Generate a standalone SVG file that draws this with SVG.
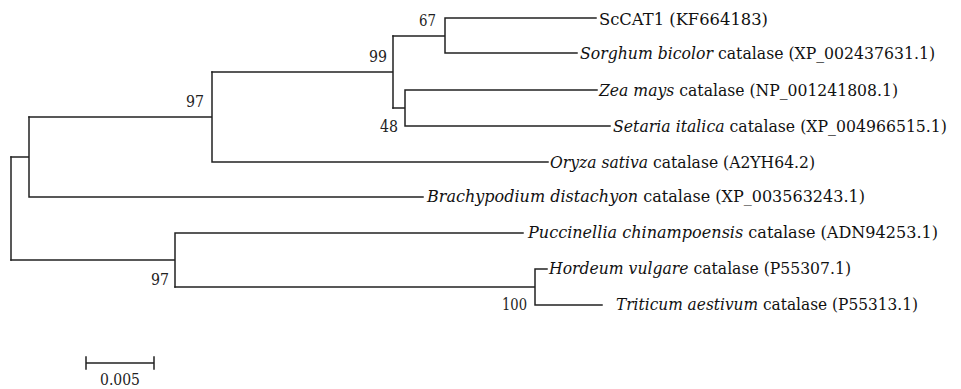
<svg xmlns="http://www.w3.org/2000/svg" width="961" height="389" viewBox="0 0 961 389">
<style>
.br{fill:none;stroke:#222;stroke-width:1.5;stroke-linecap:square}
.it{font-style:italic}
.lab{font-family:"DejaVu Serif","Liberation Serif",serif;font-size:17px;fill:#111}
.num{font-family:"DejaVu Serif","Liberation Serif",serif;font-size:17px;fill:#222}
</style>
<rect width="961" height="389" fill="#fff"/>
<g id="connectors">
<path class="br" d="M11,157 V260"/>
<path class="br" d="M11,157 H29 M29,117 V197 M29,197 H423"/>
<path class="br" d="M29,117 H212 M212,72 V162 M212,162 H548"/>
<path class="br" d="M212,72 H393 M393,36 V108"/>
<path class="br" d="M393,36 H445 M445,18 V53 M445,18 H596 M445,53 H577"/>
<path class="br" d="M393,108 H405 M405,90 V126 M405,90 H597 M405,126 H610"/>
<path class="br" d="M11,260 H175 M175,233 V287 M175,233 H523"/>
<path class="br" d="M175,287 H535 M535,269 V305 M535,269 H547 M535,305 H602"/>
</g>
<g id="node-sccat1"><text class="lab" x="599" y="25" textLength="169" lengthAdjust="spacingAndGlyphs">ScCAT1 (KF664183)</text></g>
<g id="node-sorghum"><text class="lab" x="580" y="59" textLength="355" lengthAdjust="spacingAndGlyphs"><tspan class="it">Sorghum bicolor</tspan> catalase (XP_002437631.1)</text></g>
<g id="node-zea"><text class="lab" x="599" y="96" textLength="299" lengthAdjust="spacingAndGlyphs"><tspan class="it">Zea mays</tspan> catalase (NP_001241808.1)</text></g>
<g id="node-setaria"><text class="lab" x="613" y="132" textLength="334" lengthAdjust="spacingAndGlyphs"><tspan class="it">Setaria italica</tspan> catalase (XP_004966515.1)</text></g>
<g id="node-oryza"><text class="lab" x="550" y="168" textLength="265" lengthAdjust="spacingAndGlyphs"><tspan class="it">Oryza sativa</tspan> catalase (A2YH64.2)</text></g>
<g id="node-brachypodium"><text class="lab" x="427" y="202" textLength="438" lengthAdjust="spacingAndGlyphs"><tspan class="it">Brachypodium distachyon</tspan> catalase (XP_003563243.1)</text></g>
<g id="node-puccinellia"><text class="lab" x="528" y="238" textLength="410" lengthAdjust="spacingAndGlyphs"><tspan class="it">Puccinellia chinampoensis</tspan> catalase (ADN94253.1)</text></g>
<g id="node-hordeum"><text class="lab" x="549" y="274" textLength="302" lengthAdjust="spacingAndGlyphs"><tspan class="it">Hordeum vulgare</tspan> catalase (P55307.1)</text></g>
<g id="node-triticum"><text class="lab" x="616" y="310" textLength="302" lengthAdjust="spacingAndGlyphs"><tspan class="it">Triticum aestivum</tspan> catalase (P55313.1)</text></g>
<g id="bootstrap">
<text class="num" x="419" y="26" textLength="17" lengthAdjust="spacingAndGlyphs">67</text>
<text class="num" x="369" y="62" textLength="18" lengthAdjust="spacingAndGlyphs">99</text>
<text class="num" x="186" y="107" textLength="18" lengthAdjust="spacingAndGlyphs">97</text>
<text class="num" x="380" y="132" textLength="18" lengthAdjust="spacingAndGlyphs">48</text>
<text class="num" x="151" y="285" textLength="18" lengthAdjust="spacingAndGlyphs">97</text>
<text class="num" x="502" y="310" textLength="25" lengthAdjust="spacingAndGlyphs">100</text>
</g>
<g id="scale-bar">
<path class="br" d="M86,363 H154 M86,357 V369 M154,357 V369"/>
<text class="num" x="100" y="385" textLength="40" lengthAdjust="spacingAndGlyphs">0.005</text>
</g>
</svg>
